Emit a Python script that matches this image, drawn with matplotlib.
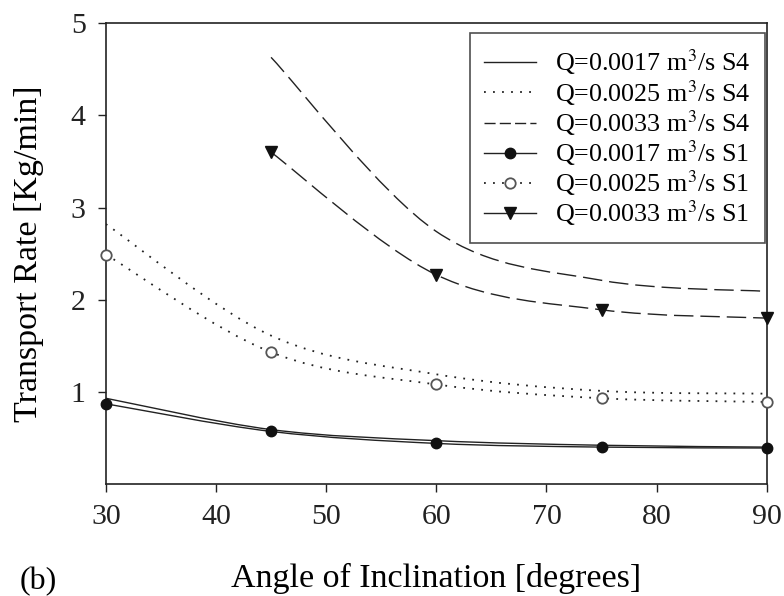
import numpy as np
import matplotlib
matplotlib.use("Agg")
import matplotlib.pyplot as plt
from matplotlib.path import Path
from matplotlib.patches import PathPatch
from matplotlib.lines import Line2D

plt.rcParams['font.family'] = ['Liberation Serif', 'DejaVu Serif']
plt.rcParams['mathtext.fontset'] = 'stix'

angles = [30, 45, 60, 75, 90]
angles_hi = [45, 60, 75, 90]

# S4 (lines only)
q17_s4 = [0.93, 0.59, 0.47, 0.42, 0.40]
q25_s4 = [2.82, 1.61, 1.19, 1.01, 0.98]
q33_s4 = [4.63, 2.74, 2.21, 2.09]

# S1 (lines + markers)
q17_s1 = [0.87, 0.57, 0.44, 0.40, 0.39]
q25_s1 = [2.49, 1.43, 1.08, 0.93, 0.89]
q33_s1 = [3.60, 2.27, 1.89, 1.80]

labels = ['Q=0.0017 m$^3$/s S4', 'Q=0.0025 m$^3$/s S4', 'Q=0.0033 m$^3$/s S4',
          'Q=0.0017 m$^3$/s S1', 'Q=0.0025 m$^3$/s S1', 'Q=0.0033 m$^3$/s S1']

dotted = (0, (1, 4))
dashed = (0, (14, 5))
col = '#222222'


def smooth_curve(ax, xs, ys, ls, lw=1.0):
    # Catmull-Rom through the points, drawn as cubic Bezier segments
    p = np.column_stack([xs, ys]).astype(float)
    ext = np.vstack([p[0], p, p[-1]])
    verts = [p[0]]
    codes = [Path.MOVETO]
    for i in range(len(p) - 1):
        p0, p1, p2, p3 = ext[i], ext[i + 1], ext[i + 2], ext[i + 3]
        verts += [p1 + (p2 - p0) / 6, p2 - (p3 - p1) / 6, p2]
        codes += [Path.CURVE4] * 3
    patch = PathPatch(Path(verts, codes), fill=False, edgecolor=col,
                      linewidth=lw, linestyle=ls)
    ax.add_patch(patch)


fig = plt.figure(figsize=(7.84, 5.96), dpi=100)
ax = fig.add_axes([0.135, 0.188, 0.843, 0.773])

smooth_curve(ax, angles, q17_s4, '-')
smooth_curve(ax, angles, q25_s4, dotted, 1.3)
smooth_curve(ax, angles_hi, q33_s4, dashed)
smooth_curve(ax, angles, q17_s1, '-')
smooth_curve(ax, angles, q25_s1, dotted, 1.3)
smooth_curve(ax, angles_hi, q33_s1, dashed)

ax.plot(angles, q17_s1, 'o', ms=7.5, color='#111111', clip_on=False, zorder=5)
ax.plot(angles, q25_s1, 'o', ms=7.5, mfc='white', mec='#555555', mew=1.3,
        clip_on=False, zorder=5)
ax.plot(angles_hi, q33_s1, 'v', ms=8, color='#111111', clip_on=False, zorder=5)

ax.set_xlim(30, 90)
ax.set_ylim(0, 5)
ax.set_xticks([30, 40, 50, 60, 70, 80, 90])
ax.set_yticks([1, 2, 3, 4, 5])
ax.tick_params(direction='out', length=5.5, width=1.0, labelsize=21.5,
               colors='#222222', pad=9)
for s in ax.spines.values():
    s.set_linewidth(1.2)
    s.set_color('#222222')

ax.set_xlabel('Angle of Inclination [degrees]', fontsize=24.5, labelpad=24)
ax.set_ylabel('Transport Rate [Kg/min]', fontsize=24.5, labelpad=19)
fig.text(0.025, 0.012, '(b)', fontsize=23)

handles = [
    Line2D([], [], color=col, lw=1.0, ls='-'),
    Line2D([], [], color=col, lw=1.3, ls=dotted),
    Line2D([], [], color=col, lw=1.0, ls=(0, (8, 3))),
    Line2D([], [], color=col, lw=1.0, ls='-', marker='o', ms=7.5, mfc='#111111', mec='#111111'),
    Line2D([], [], color=col, lw=1.3, ls=dotted, marker='o', ms=7.5, mfc='white', mec='#555555', mew=1.3),
    Line2D([], [], color=col, lw=1.0, ls='-', marker='v', ms=8, mfc='#111111', mec='#111111'),
]
leg = ax.legend(handles, labels, loc='upper right', bbox_to_anchor=(0.997, 0.978),
                borderaxespad=0, fontsize=18.7, frameon=True, fancybox=False,
                edgecolor='#222222', handlelength=2.0, handletextpad=0.73,
                labelspacing=0.02, borderpad=0.55)
leg.get_frame().set_linewidth(1.2)

fig.savefig('out.png', dpi=100)
